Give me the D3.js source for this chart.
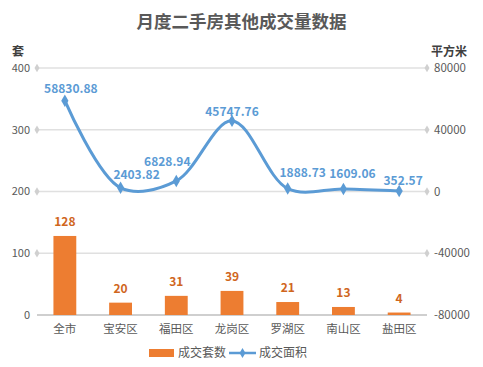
<!DOCTYPE html>
<html>
<head>
<meta charset="utf-8">
<script src="https://cdn.jsdelivr.net/npm/d3@7"></script>
<style>
  body { margin: 0; background: #fff; }
  text { font-family: "Microsoft YaHei", "Noto Sans CJK SC", sans-serif; }
</style>
</head>
<body>
<div id="chart"></div>
<script>
const categories = ["全市", "宝安区", "福田区", "龙岗区", "罗湖区", "南山区", "盐田区"];
const units = [128, 20, 31, 39, 21, 13, 4];          // 成交套数
const areas = [58830.88, 2403.82, 6828.94, 45747.76, 1888.73, 1609.06, 352.57]; // 成交面积
const leftTicks = [0, 100, 200, 300, 400];
const rightTicks = [-80000, -40000, 0, 40000, 80000];

// label nudges for the area labels (Excel had them dragged a bit)
const areaLabelShift = [[6, -8], [16, -9], [-9, -15], [0, -5], [15, -12], [9, -11], [4, -6]];

const width = 483, height = 367;
const margin = { top: 68, right: 56, bottom: 52, left: 37 };
const barColor = "#ED7D31", lineColor = "#5B9BD5";

const svg = d3.select("#chart").append("svg")
  .attr("width", width).attr("height", height);

const x = d3.scaleBand().domain(categories)
  .range([margin.left, width - margin.right]).paddingInner(0.59).paddingOuter(0.295);
const yL = d3.scaleLinear().domain([0, 400]).range([height - margin.bottom, margin.top]);
const yR = d3.scaleLinear().domain([-80000, 80000]).range([height - margin.bottom, margin.top]);

// title
svg.append("text")
  .attr("x", width / 2).attr("y", 28)
  .attr("text-anchor", "middle")
  .style("font-size", "17.5px").style("font-weight", "bold").style("fill", "#595959")
  .text("月度二手房其他成交量数据");

svg.append("text").attr("x", 18).attr("y", 56).attr("text-anchor", "middle")
  .style("font-size", "12px").style("font-weight", "bold").style("fill", "#404040").text("套");
svg.append("text").attr("x", 449).attr("y", 56).attr("text-anchor", "middle")
  .style("font-size", "12px").style("font-weight", "bold").style("fill", "#404040").text("平方米");

// gridlines with diamond ends
const grid = svg.append("g");
const diamond = d3.symbol(d3.symbolDiamond, 22)();
leftTicks.forEach(t => {
  const y = yL(t);
  grid.append("line")
    .attr("x1", margin.left).attr("x2", width - margin.right)
    .attr("y1", y).attr("y2", y)
    .attr("stroke", t === 0 ? "#BFBFBF" : "#E0E0E0").attr("stroke-width", 1.3);
  if (t !== 0) {
    [margin.left, width - margin.right].forEach(cx => {
      grid.append("path").attr("d", diamond)
        .attr("transform", `translate(${cx},${y})`).attr("fill", "#D0D0D0");
    });
  }
});

// left axis labels
svg.append("g").selectAll("text").data(leftTicks).join("text")
  .attr("x", 30).attr("y", d => yL(d)).attr("dy", "0.35em")
  .attr("text-anchor", "end")
  .style("font-size", "11px").style("fill", "#595959")
  .text(d => d);

// right axis labels
svg.append("g").selectAll("text").data(rightTicks).join("text")
  .attr("x", 434).attr("y", d => yR(d)).attr("dy", "0.35em")
  .attr("text-anchor", "start")
  .style("font-size", "11.5px").style("fill", "#595959")
  .text(d => d);

// x labels
svg.append("g").selectAll("text").data(categories).join("text")
  .attr("x", d => x(d) + x.bandwidth() / 2).attr("y", height - margin.bottom + 18)
  .attr("text-anchor", "middle")
  .style("font-size", "11.5px").style("fill", "#595959")
  .text(d => d);

// bars
svg.append("g").selectAll("rect").data(units).join("rect")
  .attr("x", (d, i) => x(categories[i]))
  .attr("y", d => yL(d))
  .attr("width", x.bandwidth())
  .attr("height", d => yL(0) - yL(d))
  .attr("fill", barColor);

svg.append("g").selectAll("text").data(units).join("text")
  .attr("x", (d, i) => x(categories[i]) + x.bandwidth() / 2)
  .attr("y", d => yL(d) - 10)
  .attr("text-anchor", "middle")
  .style("font-size", "12px").style("font-weight", "bold").style("fill", "#D0661E")
  .text(d => d);

// line
const pts = areas.map((v, i) => [x(categories[i]) + x.bandwidth() / 2, yR(v)]);
svg.append("path")
  .attr("d", d3.line().curve(d3.curveCatmullRom.alpha(0.5))(pts))
  .attr("fill", "none").attr("stroke", lineColor).attr("stroke-width", 3);

svg.append("g").selectAll("path").data(pts).join("path")
  .attr("d", d3.symbol(d3.symbolDiamond, 45)())
  .attr("transform", d => `translate(${d[0]},${d[1]})`)
  .attr("fill", lineColor);

svg.append("g").selectAll("text").data(areas).join("text")
  .attr("x", (d, i) => pts[i][0] + areaLabelShift[i][0])
  .attr("y", (d, i) => pts[i][1] + areaLabelShift[i][1])
  .attr("text-anchor", "middle")
  .style("font-size", "12px").style("font-weight", "bold").style("fill", lineColor)
  .text(d => d3.format(".2f")(d));

// legend
const lg = svg.append("g").attr("transform", "translate(0,353)");
lg.append("rect").attr("x", 149).attr("y", -4).attr("width", 25).attr("height", 8).attr("fill", barColor);
lg.append("text").attr("x", 178).attr("y", 0).attr("dy", "0.35em")
  .style("font-size", "12px").style("fill", "#595959").text("成交套数");
lg.append("line").attr("x1", 229).attr("x2", 256).attr("y1", 0).attr("y2", 0)
  .attr("stroke", lineColor).attr("stroke-width", 2.5);
lg.append("path").attr("d", d3.symbol(d3.symbolDiamond, 30)())
  .attr("transform", "translate(242.5,0)").attr("fill", lineColor);
lg.append("text").attr("x", 259).attr("y", 0).attr("dy", "0.35em")
  .style("font-size", "12px").style("fill", "#595959").text("成交面积");
</script>
</body>
</html>
